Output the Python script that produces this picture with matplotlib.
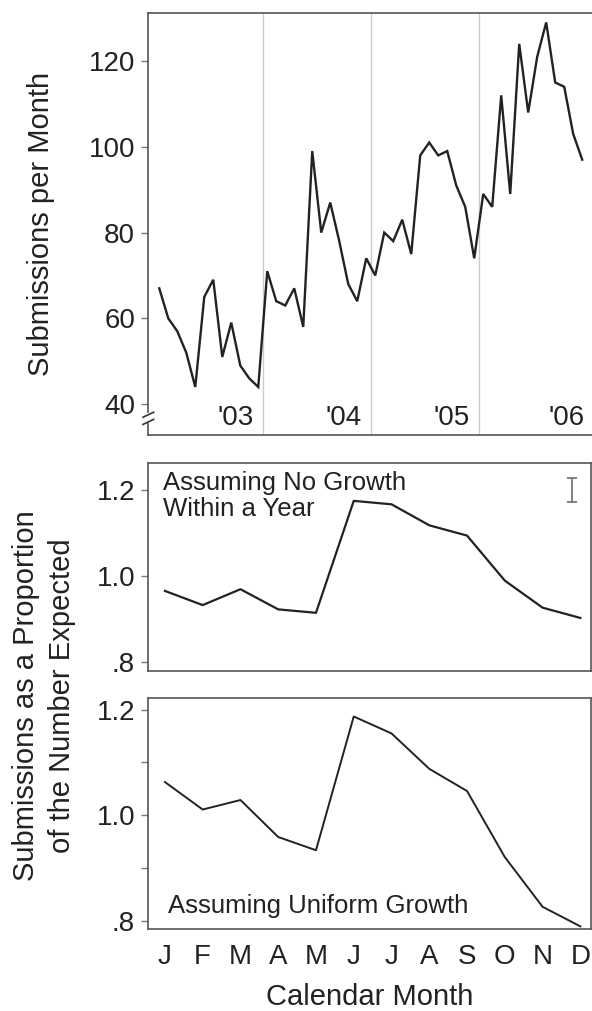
import matplotlib
matplotlib.use("Agg")
import matplotlib.pyplot as plt
import matplotlib.transforms as mtransforms

plt.rcParams['font.family'] = ['Liberation Sans', 'DejaVu Sans']

# monthly submissions, 4 years x 12 months
submissions = [67, 60, 57, 52, 44, 65, 69, 51, 59, 49, 46, 44,
               71, 64, 63, 67, 58, 99, 80, 87, 78, 68, 64, 74,
               70, 80, 78, 83, 75, 98, 101, 98, 99, 91, 86, 74,
               89, 86, 112, 89, 124, 108, 121, 129, 115, 114, 103, 97]
year_labels = ["'03", "'04", "'05", "'06"]

months = ['J', 'F', 'M', 'A', 'M', 'J', 'J', 'A', 'S', 'O', 'N', 'D']
no_growth = [0.965, 0.932, 0.969, 0.922, 0.914, 1.175, 1.167, 1.118, 1.094, 0.989, 0.926, 0.902]
uniform_growth = [1.063, 1.011, 1.029, 0.959, 0.934, 1.187, 1.155, 1.088, 1.046, 0.921, 0.827, 0.790]
err_half = 0.0285

line_c = '#222222'
spine_c = '#555555'
fs = 20

fig = plt.figure(figsize=(5.92, 10.11), dpi=100)
W, H = 592, 1011

def add_ax(left, top, right, bottom):
    return fig.add_axes([left / W, 1 - bottom / H, (right - left) / W, (bottom - top) / H])

ax1 = add_ax(148.3, 13, 593, 435)
ax2 = add_ax(148.3, 462.7, 591.3, 670.7)
ax3 = add_ax(148.3, 698, 591.3, 929)

for ax in (ax1, ax2, ax3):
    for s in ax.spines.values():
        s.set_color(spine_c)
        s.set_linewidth(1.2)
    ax.tick_params(axis='y', direction='out', length=5, width=1, color='#777777',
                   labelsize=fs, pad=4.5, labelcolor='#222222')
    ax.tick_params(axis='x', length=0)

# ---- top panel
x = list(range(len(submissions)))
ax1.plot(x, submissions, color=line_c, lw=1.7, solid_joinstyle='miter')
for k in range(1, 4):
    ax1.axvline(12 * k - 0.5, color='#cccccc', lw=1, zorder=0)
trans = mtransforms.blended_transform_factory(ax1.transData, ax1.transAxes)
for k, lab in enumerate(year_labels):
    xr = 12 * k + 10.5 if k < 3 else 47.3
    ax1.text(xr, 0.024, lab, transform=trans, ha='right', va='baseline',
             fontsize=fs, color='#222222')
ax1.set_xlim(-1.22, 48.2)
ax1.set_ylim(32.8, 131.2)
ax1.set_yticks([40, 60, 80, 100, 120])
ax1.set_xticks([])

# axis break on the left spine
ax1.plot([0, 0], [0.033, 0.048], transform=ax1.transAxes, color='white', lw=3,
         clip_on=False, zorder=5)
for yb in (0.033, 0.050):
    ax1.plot([-0.012, 0.012], [yb - 0.008, yb + 0.004], transform=ax1.transAxes,
             color='#333333', lw=1.2, clip_on=False, zorder=6)

# ---- middle panel
mx = list(range(1, 13))
ax2.plot(mx, no_growth, color=line_c, lw=1.6)
ax2.errorbar([11.78], [1.2], yerr=[err_half], color='#777777', lw=1.3,
             capsize=3.6, capthick=1.3)
ax2.set_xlim(0.56, 12.29)
ax2.set_ylim(0.779, 1.264)
ax2.set_yticks([0.8, 1.0, 1.2])
ax2.set_yticklabels(['.8', '1.0', '1.2'])
ax2.set_xticks([])
ax2.text(0.0325, 0.962, 'Assuming No Growth\nWithin a Year', transform=ax2.transAxes,
         ha='left', va='top', fontsize=18.5, linespacing=1.12, color='#222222')

# ---- bottom panel
ax3.plot(mx, uniform_growth, color=line_c, lw=1.4)
ax3.set_xlim(0.56, 12.29)
ax3.set_ylim(0.785, 1.222)
ax3.set_yticks([0.8, 0.9, 1.0, 1.1, 1.2])
ax3.set_yticklabels(['.8', '', '1.0', '', '1.2'])
ax3.set_xticks(mx)
ax3.set_xticklabels(months)
ax3.tick_params(axis='x', labelsize=fs, pad=11, labelcolor='#222222')
ax3.text(0.045, 0.068, 'Assuming Uniform Growth', transform=ax3.transAxes,
         ha='left', va='baseline', fontsize=18.5, color='#222222')

# axis titles
fig.text(370 / W, 1 - 997 / H, 'Calendar Month', ha='center', va='center',
         fontsize=21, color='#222222')
fig.text(41 / W, 1 - 224 / H, 'Submissions per Month', ha='center', va='center',
         rotation=90, fontsize=21, color='#222222')
fig.text(44 / W, 1 - 696 / H, 'Submissions as a Proportion\nof the Number Expected',
         ha='center', va='center', rotation=90, fontsize=21, linespacing=1.4,
         color='#222222')

fig.savefig('out.png', dpi=100)
